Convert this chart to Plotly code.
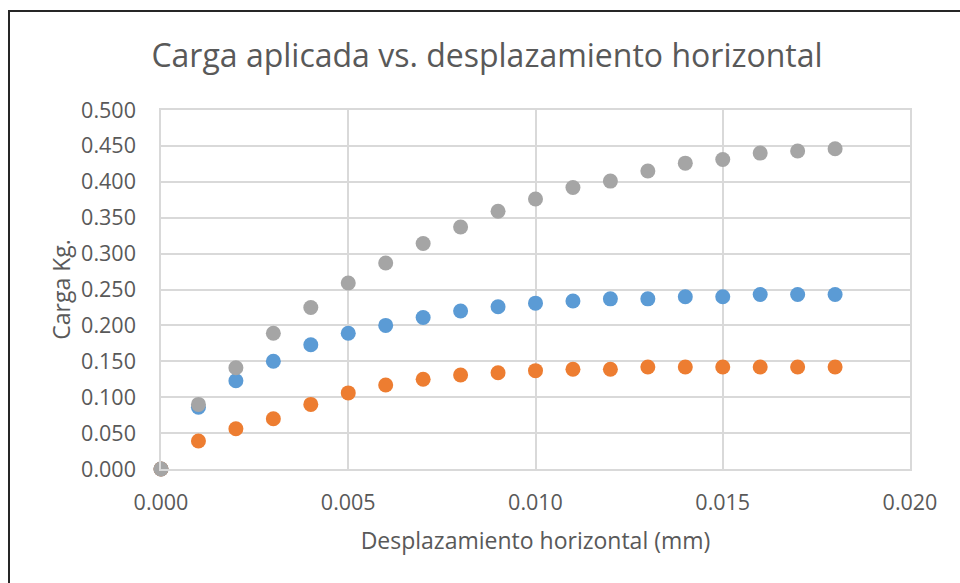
import plotly.graph_objects as go

# Horizontal displacement (mm)
desplazamiento = [0.000, 0.001, 0.002, 0.003, 0.004, 0.005, 0.006, 0.007, 0.008, 0.009,
                  0.010, 0.011, 0.012, 0.013, 0.014, 0.015, 0.016, 0.017, 0.018]

# Applied load (kg) for each test series
carga_azul = [0.000, 0.086, 0.123, 0.150, 0.173, 0.189, 0.200, 0.211, 0.220, 0.226,
              0.231, 0.234, 0.237, 0.237, 0.240, 0.240, 0.243, 0.243, 0.243]
carga_naranja = [0.000, 0.039, 0.056, 0.070, 0.090, 0.106, 0.117, 0.125, 0.131, 0.134,
                 0.137, 0.139, 0.139, 0.142, 0.142, 0.142, 0.142, 0.142, 0.142]
carga_gris = [0.000, 0.090, 0.141, 0.189, 0.225, 0.259, 0.287, 0.314, 0.337, 0.359,
              0.376, 0.392, 0.401, 0.415, 0.426, 0.431, 0.440, 0.443, 0.446]

x_ticks = [0.000, 0.005, 0.010, 0.015, 0.020]
y_ticks = [0.000, 0.050, 0.100, 0.150, 0.200, 0.250, 0.300, 0.350, 0.400, 0.450, 0.500]

FONT = "Open Sans"
TEXT = "#595959"
GRID = "#D9D9D9"

W, H = 960, 583
ML, MR, MT, MB = 161, 50, 110, 114

fig = go.Figure()
for serie, color in [(carga_azul, "#5B9BD5"), (carga_naranja, "#ED7D31"), (carga_gris, "#A5A5A5")]:
    fig.add_trace(go.Scatter(
        x=desplazamiento, y=serie, mode="markers",
        marker=dict(size=15, color=color, line=dict(width=0)),
        cliponaxis=False, showlegend=False,
    ))

# outer chart frame (extends past the right and bottom edges of the page)
pw, ph = W - ML - MR, H - MT - MB
fig.add_shape(
    type="rect", xref="paper", yref="paper", layer="below",
    x0=(9 - ML) / pw, x1=(W + 10 - ML) / pw,
    y0=-(MB + 10) / ph, y1=(H - MB - 11) / ph,
    line=dict(color="#262626", width=2), fillcolor="rgba(0,0,0,0)",
)

fig.update_layout(
    width=W, height=H,
    margin=dict(l=ML, r=MR, t=MT, b=MB),
    paper_bgcolor="white", plot_bgcolor="white",
    font=dict(family=FONT, color=TEXT),
    title=dict(text="Carga aplicada vs. desplazamiento horizontal",
               x=487 / W, xanchor="center", y=1 - 56 / H, yanchor="middle",
               font=dict(size=32, color=TEXT, family=FONT)),
    xaxis=dict(
        range=[0, 0.020], tickvals=x_ticks, tickformat=".3f",
        showgrid=True, gridcolor=GRID, gridwidth=1.5,
        showline=True, linecolor=GRID, linewidth=1.5, mirror=True,
        zeroline=False, ticks="", ticklabelstandoff=13,
        tickfont=dict(size=21.5, color=TEXT),
        title=dict(text="Desplazamiento horizontal (mm)", font=dict(size=23, color=TEXT), standoff=18),
    ),
    yaxis=dict(
        range=[0, 0.500], tickvals=y_ticks, tickformat=".3f",
        showgrid=True, gridcolor=GRID, gridwidth=1.5,
        showline=True, linecolor=GRID, linewidth=1.5, mirror=True,
        zeroline=False, ticks="", ticklabelstandoff=19,
        tickfont=dict(size=21.5, color=TEXT),
        title=dict(text="Carga Kg.", font=dict(size=23, color=TEXT), standoff=4),
    ),
)

fig.write_html("out.html")
